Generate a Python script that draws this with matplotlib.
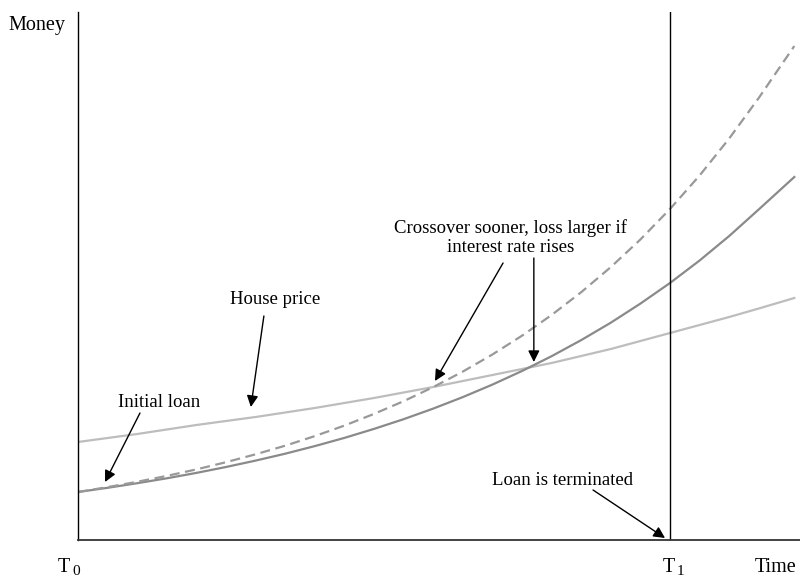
import matplotlib
matplotlib.use("Agg")
import matplotlib.pyplot as plt

# time, T0 = 0 and T1 = 1
t = [0.0, 0.05, 0.1, 0.15, 0.2, 0.25, 0.3, 0.35, 0.4, 0.45, 0.5, 0.55, 0.6,
     0.65, 0.7, 0.75, 0.8, 0.85, 0.9, 0.95, 1.0, 1.05, 1.1, 1.15, 1.21]
# money, arbitrary units
house_price = [98, 102, 106, 110.5, 115, 119, 123, 127.5, 132, 137, 142, 147.5, 153,
               159, 165, 171, 177, 184, 191, 199, 207, 215, 223, 231.5, 242]
loan = [48.0, 52.2, 56.8, 61.7, 67.1, 73.0, 79.4, 86.3, 93.9, 102.1, 111.1, 120.8, 131.4,
        142.9, 155.4, 169.0, 183.8, 199.9, 217.3, 236.4, 257.0, 279.5, 304.0, 330.6, 363]
loan_rate_up = [48.0, 52.9, 58.2, 64.1, 70.6, 77.8, 85.7, 94.3, 103.9, 114.4, 126.1, 138.8, 152.9,
                168.4, 185.5, 204.3, 225.0, 247.8, 272.9, 300.5, 331.0, 364.5, 401.5, 442.1, 494]
t_end = 1.0

plt.rcParams["font.family"] = "Liberation Serif"
fs = 13.5

W, H = 800, 580
fig = plt.figure(figsize=(8, 5.8), dpi=100)
ax = fig.add_axes([78 / W, 40 / H, (800 - 78) / W, (540 - 12) / H])
ax.set_xlim(0, (800 - 78) / 592)
ax.set_ylim(0, 528)

ax.plot(t, house_price, color="#bdbdbd", lw=1.6)
ax.plot(t, loan, color="#8a8a8a", lw=1.6)
ax.plot(t, loan_rate_up, color="#999999", lw=1.6, dashes=(4.5, 2.5))
ax.axvline(t_end, color="black", lw=1.0)

for s in ["top", "right"]:
    ax.spines[s].set_visible(False)
ax.spines["left"].set_linewidth(1.0)
ax.spines["bottom"].set_linewidth(1.3)
ax.spines["bottom"].set_color("#333333")
ax.set_xticks([])
ax.set_yticks([])

arrow = dict(arrowstyle="-|>", color="black", lw=1.0, mutation_scale=17,
             shrinkA=0, shrinkB=0)


def point(start, tip):
    ax.annotate("", xy=tip, xytext=start, arrowprops=arrow, annotation_clip=False)


ax.text(0.137, 133, "Initial loan", ha="center", va="baseline", fontsize=fs)
point((0.1047, 127), (0.0456, 58))

ax.text(0.333, 236, "House price", ha="center", va="baseline", fontsize=fs)
point((0.314, 224), (0.292, 133))

ax.text(0.731, 307, "Crossover sooner, loss larger if", ha="center", va="baseline", fontsize=fs)
ax.text(0.731, 288, "interest rate rises", ha="center", va="baseline", fontsize=fs)
point((0.718, 277), (0.603, 159))
point((0.770, 282), (0.770, 178))

ax.text(0.818, 55, "Loan is terminated", ha="center", va="baseline", fontsize=fs)
point((0.870, 50), (0.9916, 2))

fig.text(8 / W, 1 - 30 / H, "Money", ha="left", va="baseline", fontsize=14.5)
fig.text(58 / W, 1 - 572 / H, "T", ha="left", va="baseline", fontsize=14.5)
fig.text(72 / W, 1 - 565 / H, "0", ha="left", va="top", fontsize=11)
fig.text(663 / W, 1 - 572 / H, "T", ha="left", va="baseline", fontsize=14.5)
fig.text(677 / W, 1 - 565 / H, "1", ha="left", va="top", fontsize=11)
fig.text(755 / W, 1 - 572 / H, "Time", ha="left", va="baseline", fontsize=14.5)

fig.savefig("out.png", dpi=100)
